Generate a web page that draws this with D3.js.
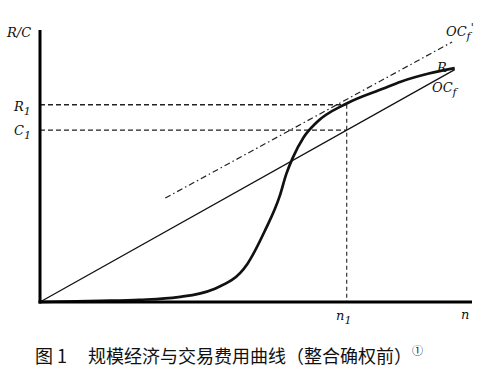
<!DOCTYPE html>
<html>
<head>
<meta charset="utf-8">
<script src="https://cdn.jsdelivr.net/npm/d3@7.9.0/dist/d3.min.js"></script>
<style>
  body { margin: 0; background: #fff; }
  svg { display: block; }
  .math { font-family: "DejaVu Serif", "Liberation Serif", serif; font-style: italic; font-size: 13px; fill: #111; }
  .caption { font-family: "Noto Sans CJK SC", sans-serif; font-size: 18px; fill: #111; }
</style>
</head>
<body>
<svg width="482" height="372"></svg>
<script>
// R curve (scale economies)
const curveN = [0, 14, 23, 32, 40, 48, 52, 55.5, 57, 58.5, 61, 64, 71, 79.5, 83.5, 90, 96];
const curveR = [0, 0.4, 0.8, 1.8, 4.6, 14, 26, 39, 47, 53, 60.5, 66, 73, 78.5, 81, 84, 86];
// key points
const n1 = 71, R1 = 72.5, C1 = 63.2;
// OC_f' (dash-dot) endpoints
const ocfPrimeN = [29, 95.4];
const ocfPrimeY = [38.2, 95.6];
const ocfEndN = 96;

const svg = d3.select('svg');
const x = d3.scaleLinear().domain([0, 100]).range([40, 472]);
const y = d3.scaleLinear().domain([0, 100]).range([302, 30]);

// dashed guides
svg.append('g').selectAll('line')
  .data([[0, R1, n1, R1], [0, C1, n1, C1]])
  .join('line')
  .attr('x1', d => x(d[0])).attr('y1', d => y(d[1]))
  .attr('x2', d => x(d[2])).attr('y2', d => y(d[3]))
  .attr('stroke', '#222').attr('stroke-width', 1.4).attr('stroke-dasharray', '5,3');
svg.append('line')
  .attr('x1', x(n1)).attr('y1', y(R1)).attr('x2', x(n1)).attr('y2', y(0))
  .attr('stroke', '#222').attr('stroke-width', 1.1).attr('stroke-dasharray', '4,3');

// OC_f solid line
const slope = C1 / n1;
svg.append('line')
  .attr('x1', x(0)).attr('y1', y(0)).attr('x2', x(ocfEndN)).attr('y2', y(slope * ocfEndN))
  .attr('stroke', '#111').attr('stroke-width', 1.3);

// OC_f' dash-dot
svg.append('line')
  .attr('x1', x(ocfPrimeN[0])).attr('y1', y(ocfPrimeY[0]))
  .attr('x2', x(ocfPrimeN[1])).attr('y2', y(ocfPrimeY[1]))
  .attr('stroke', '#222').attr('stroke-width', 1.2).attr('stroke-dasharray', '6,3,1.5,3');

// R curve
const pts = curveN.map((n, i) => [n, curveR[i]]);
svg.append('path')
  .attr('d', d3.line().x(d => x(d[0])).y(d => y(d[1])).curve(d3.curveMonotoneX)(pts))
  .attr('fill', 'none').attr('stroke', '#111').attr('stroke-width', 2.7);

// axes
svg.append('line').attr('x1', x(0)).attr('y1', y(100)).attr('x2', x(0)).attr('y2', y(0) + 1.5)
  .attr('stroke', '#000').attr('stroke-width', 3);
svg.append('line').attr('x1', x(0) - 1.5).attr('y1', y(0)).attr('x2', x(100)).attr('y2', y(0))
  .attr('stroke', '#000').attr('stroke-width', 3);

// labels
const labels = [
  { t: 'R/C', px: 7, py: 37 },
  { t: 'R', sub: '1', px: 14, py: 111 },
  { t: 'C', sub: '1', px: 14, py: 135 },
  { t: 'n', sub: '1', px: 336, py: 320 },
  { t: 'n', px: 461, py: 319 },
  { t: 'R', px: 437, py: 72 },
  { t: 'OC', sub: 'f', px: 432, py: 92 },
  { t: 'OC', sub: 'f', sup: "'", px: 446, py: 36 }
];
labels.forEach(d => {
  const t = svg.append('text').attr('class', 'math').attr('x', d.px).attr('y', d.py).text(d.t);
  if (d.sub) t.append('tspan').attr('dy', 4).attr('font-size', 11).text(d.sub);
  if (d.sup) t.append('tspan').attr('dy', -9).attr('font-size', 11).text(d.sup);
});

// caption
svg.append('text').attr('class', 'caption').attr('x', 35).attr('y', 363)
  .text('图 1');
const cap = svg.append('text').attr('class', 'caption').attr('x', 88).attr('y', 363)
  .text('规模经济与交易费用曲线（整合确权前）');
cap.append('tspan').attr('font-size', 11).attr('dy', -8).text('①');
</script>
</body>
</html>
